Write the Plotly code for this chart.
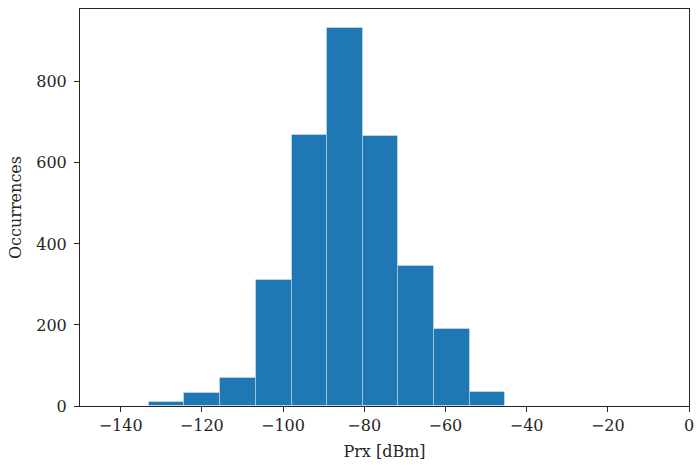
import plotly.graph_objects as go

# Histogram bin edges (dBm) and counts
bin_edges = [-133.1, -124.3, -115.5, -106.7, -97.9, -89.1, -80.4, -71.6, -62.8, -54.0, -45.2]
counts = [9, 31, 70, 310, 669, 933, 666, 346, 191, 35]
x_ticks = [-140, -120, -100, -80, -60, -40, -20, 0]
y_ticks = [0, 200, 400, 600, 800]

centers = [(a + b) / 2 for a, b in zip(bin_edges[:-1], bin_edges[1:])]
widths = [b - a for a, b in zip(bin_edges[:-1], bin_edges[1:])]

fig = go.Figure(go.Bar(
    x=centers, y=counts, width=widths,
    marker=dict(color="#1f77b4", line=dict(color="rgba(255,255,255,0.35)", width=1)),
))

font = dict(family="DejaVu Serif", size=16, color="#262626")
axis_common = dict(
    showgrid=False, zeroline=False, showline=True, mirror=True,
    linecolor="#262626", linewidth=1, ticks="outside", ticklen=5,
    tickwidth=1, tickcolor="#262626", tickfont=font, automargin=False,
)
fig.update_layout(
    width=696, height=465,
    margin=dict(l=80, r=7, t=9, b=59),
    plot_bgcolor="white", paper_bgcolor="white",
    font=font, showlegend=False, bargap=0,
    xaxis=dict(range=[-150, 0], tickvals=x_ticks,
               ticktext=[("\u2212" + str(-v)) if v < 0 else str(v) for v in x_ticks],
               title=dict(text="Prx [dBm]", font=font, standoff=11), **axis_common),
    yaxis=dict(range=[0, max(counts) * 1.05], tickvals=y_ticks, ticklabelstandoff=4,
               title=dict(text="Occurrences", font=font, standoff=10), **axis_common),
)
fig.write_html("out.html")
